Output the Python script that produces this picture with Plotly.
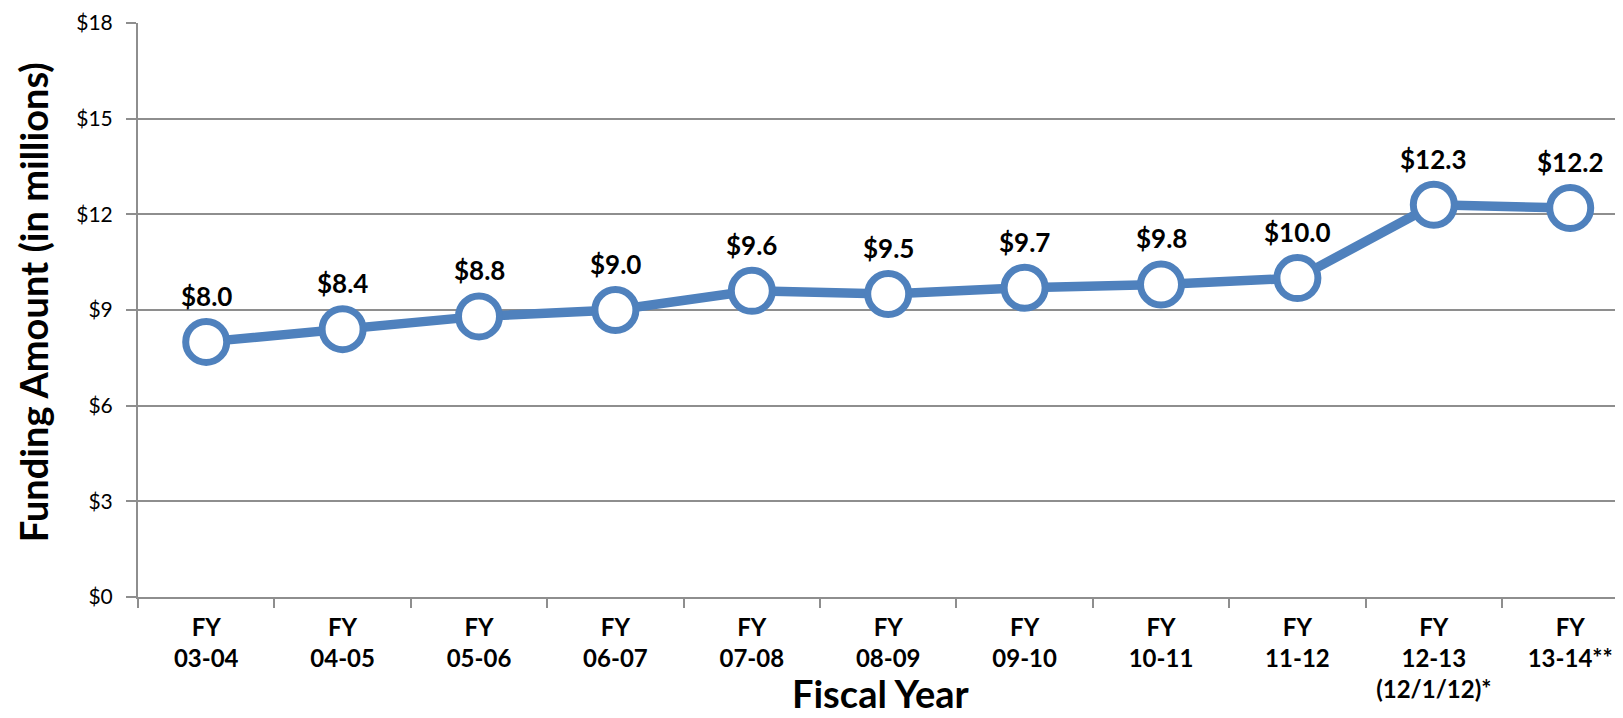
import plotly.graph_objects as go

categories = ["FY<br>03-04", "FY<br>04-05", "FY<br>05-06", "FY<br>06-07", "FY<br>07-08",
              "FY<br>08-09", "FY<br>09-10", "FY<br>10-11", "FY<br>11-12",
              "FY<br>12-13<br>(12/1/12)*", "FY<br>13-14**"]
values = [8.0, 8.4, 8.8, 9.0, 9.6, 9.5, 9.7, 9.8, 10.0, 12.3, 12.2]
y_ticks = [0, 3, 6, 9, 12, 15, 18]
y_tick_labels = ["$0", "$3", "$6", "$9", "$12", "$15", "$18"]

FONT = "Lato"
BLUE = "#4F81BD"
GRID = "#8E8E8E"

fig = go.Figure()
fig.add_trace(go.Scatter(
    x=categories, y=values, mode="lines+markers",
    line=dict(color=BLUE, width=9.5),
    marker=dict(size=41, color="white", line=dict(color=BLUE, width=7)),
    hoverinfo="skip", showlegend=False, cliponaxis=False,
))
for c, v in zip(categories, values):
    fig.add_annotation(x=c, y=v, text=f"<b>${v:.1f}</b>", showarrow=False,
                       yshift=46, font=dict(family=FONT, size=26, color="#000000"))

# axis titles
fig.add_annotation(xref="paper", yref="paper", x=0.5, y=-0.1675, xanchor="center", yanchor="middle",
                   text="<b>Fiscal Year</b>", showarrow=False, borderpad=0,
                   font=dict(family=FONT, size=38, color="#000000"))
fig.add_annotation(xref="paper", yref="paper", x=-0.0705, y=0.514, xanchor="center", yanchor="middle",
                   text="<b>Funding Amount (in millions)</b>", textangle=-90, showarrow=False, borderpad=0,
                   font=dict(family=FONT, size=38, color="#000000"))

fig.update_layout(
    width=1615, height=710,
    margin=dict(l=130, r=0, t=15, b=121),
    plot_bgcolor="white", paper_bgcolor="white",
    font=dict(family=FONT, color="#000000"),
)
fig.update_xaxes(
    type="category", tickson="boundaries", ticks="outside", ticklen=9, tickcolor=GRID, tickwidth=2,
    showline=True, linecolor=GRID, linewidth=2, showgrid=False,
    tickfont=dict(family=FONT, size=24, color="#000000"), ticklabelstandoff=8,
    tickvals=categories, ticktext=[f"<b>{c}</b>" for c in categories],
    range=[-0.5, len(categories) - 0.613],
)
fig.update_yaxes(
    range=[0, 18], tickvals=y_ticks, ticktext=y_tick_labels,
    ticks="outside", ticklen=10, tickcolor=GRID, tickwidth=2,
    showline=True, linecolor=GRID, linewidth=2,
    showgrid=True, gridcolor=GRID, gridwidth=1.5, zeroline=False,
    tickfont=dict(family=FONT, size=21, color="#000000"), ticklabelstandoff=9,
)

fig.write_html("out.html")
